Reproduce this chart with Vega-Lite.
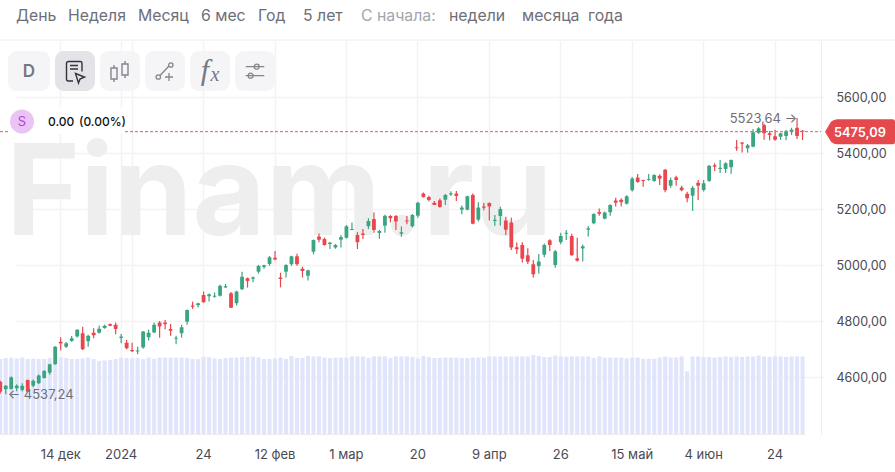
{
"$schema":"https://vega.github.io/schema/vega-lite/v6.json",
"width":821,"height":393,
"autosize":"none",
"padding":{"left":0,"top":41,"right":74,"bottom":38},
"background":"#ffffff",
"config":{"view":{"stroke":null},"font":"Inter"},
"data":{"values":[{}]},
"datasets":{"d":[
{"date":"2023-11-29","open":4582,"high":4585,"low":4540,"close":4546,"volume":3.75},
{"date":"2023-11-30","open":4555,"high":4570,"low":4537.24,"close":4567,"volume":3.8},
{"date":"2023-12-01","open":4556,"high":4600,"low":4554,"close":4598,"volume":3.82},
{"date":"2023-12-04","open":4558,"high":4573,"low":4548,"close":4567,"volume":3.78},
{"date":"2023-12-05","open":4552,"high":4576,"low":4547,"close":4567,"volume":3.82},
{"date":"2023-12-06","open":4588,"high":4590,"low":4545,"close":4546,"volume":3.75},
{"date":"2023-12-07","open":4567,"high":4590,"low":4562,"close":4585,"volume":3.77},
{"date":"2023-12-08","open":4576,"high":4608,"low":4574,"close":4604,"volume":3.75},
{"date":"2023-12-11","open":4595,"high":4624,"low":4593,"close":4620,"volume":3.75},
{"date":"2023-12-12","open":4614,"high":4646,"low":4607,"close":4644,"volume":3.8},
{"date":"2023-12-13","open":4644,"high":4709,"low":4642,"close":4707,"volume":3.75},
{"date":"2023-12-14","open":4725,"high":4741,"low":4693,"close":4718,"volume":3.83},
{"date":"2023-12-15","open":4707,"high":4724,"low":4702,"close":4719,"volume":3.8},
{"date":"2023-12-18","open":4727,"high":4745,"low":4725,"close":4737,"volume":3.75},
{"date":"2023-12-19","open":4743,"high":4769,"low":4740,"close":4767,"volume":3.75},
{"date":"2023-12-20","open":4755,"high":4778,"low":4695,"close":4698,"volume":3.78},
{"date":"2023-12-21","open":4726,"high":4750,"low":4707,"close":4746,"volume":3.82},
{"date":"2023-12-22","open":4757,"high":4773,"low":4737,"close":4748,"volume":3.75},
{"date":"2023-12-26","open":4757,"high":4783,"low":4754,"close":4771,"volume":3.65},
{"date":"2023-12-27","open":4774,"high":4785,"low":4771,"close":4782,"volume":3.68},
{"date":"2023-12-28","open":4788,"high":4790,"low":4780,"close":4782,"volume":3.7},
{"date":"2023-12-29","open":4785,"high":4793,"low":4751,"close":4770,"volume":3.75},
{"date":"2024-01-02","open":4738,"high":4752,"low":4719,"close":4743,"volume":3.82},
{"date":"2024-01-03","open":4721,"high":4731,"low":4698,"close":4701,"volume":3.8},
{"date":"2024-01-04","open":4695,"high":4721,"low":4688,"close":4691,"volume":3.78},
{"date":"2024-01-05","open":4690,"high":4707,"low":4680,"close":4693,"volume":3.8},
{"date":"2024-01-08","open":4704,"high":4763,"low":4700,"close":4761,"volume":3.75},
{"date":"2024-01-09","open":4741,"high":4767,"low":4729,"close":4757,"volume":3.82},
{"date":"2024-01-10","open":4758,"high":4793,"low":4755,"close":4785,"volume":3.75},
{"date":"2024-01-11","open":4793,"high":4799,"low":4739,"close":4779,"volume":3.82},
{"date":"2024-01-12","open":4793,"high":4802,"low":4769,"close":4787,"volume":3.82},
{"date":"2024-01-16","open":4770,"high":4788,"low":4746,"close":4764,"volume":3.82},
{"date":"2024-01-17","open":4735,"high":4746,"low":4716,"close":4739,"volume":3.82},
{"date":"2024-01-18","open":4755,"high":4785,"low":4739,"close":4776,"volume":3.82},
{"date":"2024-01-19","open":4796,"high":4840,"low":4785,"close":4838,"volume":3.8},
{"date":"2024-01-22","open":4854,"high":4868,"low":4842,"close":4850,"volume":3.75},
{"date":"2024-01-23","open":4855,"high":4864,"low":4847,"close":4862,"volume":3.75},
{"date":"2024-01-24","open":4892,"high":4904,"low":4864,"close":4866,"volume":3.85},
{"date":"2024-01-25","open":4887,"high":4897,"low":4868,"close":4894,"volume":3.83},
{"date":"2024-01-26","open":4885,"high":4901,"low":4882,"close":4889,"volume":3.78},
{"date":"2024-01-29","open":4889,"high":4928,"low":4886,"close":4925,"volume":3.75},
{"date":"2024-01-30","open":4918,"high":4931,"low":4917,"close":4923,"volume":3.8},
{"date":"2024-01-31","open":4898,"high":4902,"low":4845,"close":4846,"volume":3.82},
{"date":"2024-02-01","open":4862,"high":4907,"low":4854,"close":4904,"volume":3.82},
{"date":"2024-02-02","open":4912,"high":4975,"low":4909,"close":4957,"volume":3.85},
{"date":"2024-02-05","open":4951,"high":4954,"low":4918,"close":4942,"volume":3.85},
{"date":"2024-02-06","open":4950,"high":4957,"low":4937,"close":4955,"volume":3.87},
{"date":"2024-02-07","open":4975,"high":4999,"low":4968,"close":4995,"volume":3.83},
{"date":"2024-02-08","open":4992,"high":5000,"low":4985,"close":4998,"volume":3.75},
{"date":"2024-02-09","open":5002,"high":5031,"low":4996,"close":5026,"volume":3.75},
{"date":"2024-02-12","open":5025,"high":5049,"low":5016,"close":5018,"volume":3.77},
{"date":"2024-02-13","open":4954,"high":4971,"low":4919,"close":4949,"volume":3.82},
{"date":"2024-02-14","open":4975,"high":5001,"low":4954,"close":4999,"volume":3.75},
{"date":"2024-02-15","open":5001,"high":5032,"low":4996,"close":5030,"volume":3.9},
{"date":"2024-02-16","open":5030,"high":5039,"low":4996,"close":5001,"volume":3.8},
{"date":"2024-02-20","open":4985,"high":4993,"low":4954,"close":4977,"volume":3.8},
{"date":"2024-02-21","open":4960,"high":4982,"low":4943,"close":4980,"volume":3.9},
{"date":"2024-02-22","open":5046,"high":5090,"low":5037,"close":5088,"volume":3.88},
{"date":"2024-02-23","open":5101,"high":5111,"low":5080,"close":5089,"volume":3.88},
{"date":"2024-02-26","open":5092,"high":5097,"low":5068,"close":5070,"volume":3.82},
{"date":"2024-02-27","open":5074,"high":5080,"low":5056,"close":5079,"volume":3.8},
{"date":"2024-02-28","open":5061,"high":5074,"low":5057,"close":5070,"volume":3.82},
{"date":"2024-02-29","open":5089,"high":5106,"low":5061,"close":5099,"volume":3.82},
{"date":"2024-03-01","open":5096,"high":5141,"low":5093,"close":5137,"volume":3.82},
{"date":"2024-03-04","open":5124,"high":5151,"low":5123,"close":5127,"volume":3.88},
{"date":"2024-03-05","open":5106,"high":5116,"low":5056,"close":5080,"volume":3.88},
{"date":"2024-03-06","open":5111,"high":5127,"low":5092,"close":5106,"volume":3.88},
{"date":"2024-03-07","open":5137,"high":5166,"low":5127,"close":5156,"volume":3.8},
{"date":"2024-03-08","open":5163,"high":5186,"low":5114,"close":5124,"volume":3.88},
{"date":"2024-03-11","open":5113,"high":5124,"low":5092,"close":5120,"volume":3.88},
{"date":"2024-03-12","open":5139,"high":5178,"low":5114,"close":5175,"volume":3.88},
{"date":"2024-03-13","open":5174,"high":5177,"low":5151,"close":5166,"volume":3.8},
{"date":"2024-03-14","open":5174,"high":5177,"low":5124,"close":5154,"volume":3.88},
{"date":"2024-03-15","open":5110,"high":5136,"low":5100,"close":5116,"volume":3.88},
{"date":"2024-03-18","open":5158,"high":5174,"low":5144,"close":5154,"volume":3.88},
{"date":"2024-03-19","open":5137,"high":5181,"low":5133,"close":5177,"volume":3.85},
{"date":"2024-03-20","open":5175,"high":5225,"low":5168,"close":5221,"volume":3.78},
{"date":"2024-03-21","open":5254,"high":5258,"low":5240,"close":5242,"volume":3.9},
{"date":"2024-03-22","open":5242,"high":5246,"low":5226,"close":5231,"volume":3.85},
{"date":"2024-03-25","open":5221,"high":5227,"low":5213,"close":5213,"volume":3.8},
{"date":"2024-03-26","open":5230,"high":5236,"low":5203,"close":5206,"volume":3.8},
{"date":"2024-03-27","open":5232,"high":5252,"low":5213,"close":5249,"volume":3.82},
{"date":"2024-03-28","open":5251,"high":5262,"low":5245,"close":5255,"volume":3.82},
{"date":"2024-04-01","open":5254,"high":5263,"low":5227,"close":5245,"volume":3.82},
{"date":"2024-04-02","open":5196,"high":5211,"low":5180,"close":5204,"volume":3.8},
{"date":"2024-04-03","open":5196,"high":5246,"low":5194,"close":5244,"volume":3.8},
{"date":"2024-04-04","open":5249,"high":5254,"low":5144,"close":5146,"volume":3.82},
{"date":"2024-04-05","open":5160,"high":5223,"low":5154,"close":5204,"volume":3.82},
{"date":"2024-04-08","open":5208,"high":5220,"low":5194,"close":5203,"volume":3.82},
{"date":"2024-04-09","open":5220,"high":5222,"low":5158,"close":5208,"volume":3.88},
{"date":"2024-04-10","open":5156,"high":5177,"low":5139,"close":5160,"volume":3.88},
{"date":"2024-04-11","open":5174,"high":5207,"low":5139,"close":5199,"volume":3.88},
{"date":"2024-04-12","open":5158,"high":5171,"low":5106,"close":5125,"volume":3.88},
{"date":"2024-04-15","open":5151,"high":5168,"low":5052,"close":5061,"volume":3.88},
{"date":"2024-04-16","open":5062,"high":5079,"low":5038,"close":5055,"volume":3.88},
{"date":"2024-04-17","open":5070,"high":5080,"low":5008,"close":5021,"volume":3.88},
{"date":"2024-04-18","open":5034,"high":5059,"low":5002,"close":5010,"volume":3.88},
{"date":"2024-04-19","open":5001,"high":5017,"low":4954,"close":4966,"volume":3.95},
{"date":"2024-04-22","open":4994,"high":5038,"low":4968,"close":5011,"volume":3.9},
{"date":"2024-04-23","open":5035,"high":5076,"low":5026,"close":5070,"volume":3.85},
{"date":"2024-04-24","open":5087,"high":5091,"low":5049,"close":5070,"volume":3.85},
{"date":"2024-04-25","open":4999,"high":5052,"low":4989,"close":5048,"volume":3.92},
{"date":"2024-04-26","open":5080,"high":5114,"low":5073,"close":5102,"volume":3.88},
{"date":"2024-04-29","open":5110,"high":5124,"low":5088,"close":5114,"volume":3.87},
{"date":"2024-04-30","open":5102,"high":5110,"low":5032,"close":5034,"volume":3.88},
{"date":"2024-05-01","open":5023,"high":5096,"low":5011,"close":5014,"volume":3.88},
{"date":"2024-05-02","open":5058,"high":5072,"low":5011,"close":5066,"volume":3.88},
{"date":"2024-05-03","open":5125,"high":5138,"low":5101,"close":5130,"volume":3.88},
{"date":"2024-05-06","open":5148,"high":5184,"low":5144,"close":5181,"volume":3.8},
{"date":"2024-05-07","open":5188,"high":5201,"low":5175,"close":5182,"volume":3.88},
{"date":"2024-05-08","open":5164,"high":5190,"low":5162,"close":5186,"volume":3.82},
{"date":"2024-05-09","open":5187,"high":5216,"low":5175,"close":5213,"volume":3.82},
{"date":"2024-05-10","open":5229,"high":5239,"low":5208,"close":5221,"volume":3.82},
{"date":"2024-05-13","open":5232,"high":5237,"low":5208,"close":5223,"volume":3.82},
{"date":"2024-05-14","open":5218,"high":5248,"low":5215,"close":5244,"volume":3.78},
{"date":"2024-05-15","open":5266,"high":5313,"low":5261,"close":5308,"volume":3.82},
{"date":"2024-05-16","open":5311,"high":5324,"low":5293,"close":5295,"volume":3.82},
{"date":"2024-05-17","open":5302,"high":5303,"low":5278,"close":5299,"volume":3.76},
{"date":"2024-05-20","open":5302,"high":5324,"low":5300,"close":5306,"volume":3.76},
{"date":"2024-05-21","open":5299,"high":5323,"low":5296,"close":5320,"volume":3.76},
{"date":"2024-05-22","open":5318,"high":5323,"low":5285,"close":5307,"volume":3.82},
{"date":"2024-05-23","open":5339,"high":5342,"low":5259,"close":5266,"volume":3.87},
{"date":"2024-05-24","open":5282,"high":5311,"low":5275,"close":5302,"volume":3.82},
{"date":"2024-05-28","open":5312,"high":5318,"low":5282,"close":5302,"volume":3.82},
{"date":"2024-05-29","open":5276,"high":5282,"low":5262,"close":5266,"volume":3.88},
{"date":"2024-05-30","open":5253,"high":5260,"low":5223,"close":5237,"volume":3.13},
{"date":"2024-05-31","open":5246,"high":5281,"low":5192,"close":5275,"volume":3.88},
{"date":"2024-06-03","open":5293,"high":5302,"low":5231,"close":5282,"volume":3.87},
{"date":"2024-06-04","open":5267,"high":5302,"low":5261,"close":5291,"volume":3.85},
{"date":"2024-06-05","open":5299,"high":5356,"low":5296,"close":5353,"volume":3.85},
{"date":"2024-06-06","open":5355,"high":5362,"low":5335,"close":5350,"volume":3.82},
{"date":"2024-06-07","open":5342,"high":5374,"low":5327,"close":5346,"volume":3.85},
{"date":"2024-06-10","open":5342,"high":5366,"low":5327,"close":5362,"volume":3.88},
{"date":"2024-06-11","open":5348,"high":5376,"low":5325,"close":5374,"volume":3.85},
{"date":"2024-06-12","open":5419,"high":5445,"low":5407,"close":5416,"volume":3.88},
{"date":"2024-06-13","open":5436,"high":5437,"low":5401,"close":5432,"volume":3.85},
{"date":"2024-06-14","open":5416,"high":5431,"low":5400,"close":5427,"volume":3.88},
{"date":"2024-06-17","open":5421,"high":5485,"low":5419,"close":5473,"volume":3.88},
{"date":"2024-06-18","open":5471,"high":5491,"low":5467,"close":5487,"volume":3.92},
{"date":"2024-06-20","open":5499,"high":5503,"low":5446,"close":5469,"volume":3.88},
{"date":"2024-06-21","open":5469,"high":5477,"low":5444,"close":5463,"volume":3.85},
{"date":"2024-06-24","open":5459,"high":5482,"low":5443,"close":5446,"volume":3.88},
{"date":"2024-06-25","open":5457,"high":5471,"low":5446,"close":5469,"volume":3.88},
{"date":"2024-06-26","open":5460,"high":5482,"low":5444,"close":5477,"volume":3.85},
{"date":"2024-06-27","open":5475,"high":5489,"low":5463,"close":5482,"volume":3.88},
{"date":"2024-06-28","open":5489,"high":5523.64,"low":5449,"close":5460,"volume":3.88},
{"date":"2024-07-01","open":5478,"high":5481,"low":5445,"close":5475.09,"volume":3.88}
]},
"layer":[
{"mark":{"type":"text","text":"Finam.ru","font":"Inter","fontWeight":"bold","fontSize":126,"align":"left","baseline":"alphabetic","color":"#eeeeee"},
 "encoding":{"x":{"value":6},"y":{"value":194}}},
{"data":{"name":"d"},
 "mark":{"type":"bar","width":4.1,"color":"#dfe4fc","opacity":0.95},
 "encoding":{
  "x":{"field":"date","type":"ordinal","scale":{"type":"band","range":[-2.5,805.3],"paddingInner":0,"paddingOuter":0},
   "axis":{"title":null,"values":["2023-12-14","2024-01-02","2024-01-04","2024-01-24","2024-02-12","2024-03-01","2024-03-20","2024-04-09","2024-04-26","2024-05-15","2024-06-04","2024-06-24"],
    "labelExpr":"{'2023-12-14':'14 дек','2024-01-02':'2024','2024-01-04':'','2024-01-24':'24','2024-02-12':'12 фев','2024-03-01':'1 мар','2024-03-20':'20','2024-04-09':'9 апр','2024-04-26':'26','2024-05-15':'15 май','2024-06-04':'4 июн','2024-06-24':'24'}[datum.value]",
    "grid":true,"gridColor":"#f3f3f4","gridWidth":1.5,"ticks":false,"domain":true,"domainColor":"#ececee","labelPadding":14,"labelFont":"Inter","labelFontSize":13,"labelColor":"#4a4a52","labelAngle":0,"labelOverlap":false}},
  "y":{"field":"volume","type":"quantitative","scale":{"domain":[0,19.65]},"axis":null}}},
{"resolve":{"scale":{"y":"shared"}},
 "layer":[
 {"data":{"name":"d"},
  "mark":{"type":"rule","strokeWidth":1.2},
  "encoding":{
   "x":{"field":"date","type":"ordinal","scale":{"type":"band"}},
   "y":{"field":"low","type":"quantitative","scale":{"domain":[4395,5799]},
    "axis":{"title":null,"orient":"right","values":[4600,4800,5000,5200,5400,5600],"labelExpr":"replace(format(datum.value,'.2f'),'.',',')","grid":true,"gridColor":"#f3f3f4","gridWidth":1.5,"ticks":false,"domain":true,"domainColor":"#ececee","labelPadding":15,"labelFont":"Inter","labelFontSize":12.5,"labelColor":"#4a4a52","labelOffset":0.7}},
   "y2":{"field":"high"},
   "color":{"condition":{"test":"datum.close>=datum.open","value":"#3ba582"},"value":"#e8474e"}}},
 {"data":{"name":"d"},
  "mark":{"type":"bar","width":3.8,"cornerRadius":0.5},
  "encoding":{
   "x":{"field":"date","type":"ordinal","scale":{"type":"band"}},
   "y":{"field":"open","type":"quantitative","scale":{"domain":[4395,5799]}},
   "y2":{"field":"close"},
   "color":{"condition":{"test":"datum.close>=datum.open","value":"#3ba582"},"value":"#e8474e"}}},
 {"mark":{"type":"rule","stroke":"#ea5a60","strokeWidth":1,"strokeDash":[3,2]},
  "encoding":{"x":{"value":0},"x2":{"value":821},"y":{"datum":5475.09,"type":"quantitative","scale":{"domain":[4395,5799]}}}},
 {"data":{"values":[{"date":"2024-06-28","price":5523.64,"label":"5523,64 →"}]},
  "mark":{"type":"text","align":"right","baseline":"middle","font":"Inter","fontSize":13,"color":"#6f6f77","dx":0,"dy":1},
  "encoding":{"x":{"field":"date","type":"ordinal","scale":{"type":"band"}},"y":{"field":"price","type":"quantitative","scale":{"domain":[4395,5799]}},"text":{"field":"label"}}},
 {"data":{"values":[{"date":"2023-11-30","price":4537.24,"label":"← 4537,24"}]},
  "mark":{"type":"text","align":"left","baseline":"middle","font":"Inter","fontSize":13,"color":"#6f6f77","dx":2,"dy":1},
  "encoding":{"x":{"field":"date","type":"ordinal","scale":{"type":"band"}},"y":{"field":"price","type":"quantitative","scale":{"domain":[4395,5799]}},"text":{"field":"label"}}},
 {"mark":{"type":"point","shape":"M-3.5,0 L-2.9,-1 Q-2.6,-1.25 -2.3,-1.25 H3.3 Q3.5,-1.25 3.5,-1 V1 Q3.5,1.25 3.3,1.25 H-2.3 Q-2.6,1.25 -2.9,1 Z","size":400,"filled":true,"color":"#e5484d","opacity":1,"stroke":null},
  "encoding":{"x":{"value":860},"y":{"datum":5475.09,"type":"quantitative","scale":{"domain":[4395,5799]}}}},
 {"data":{"values":[{"price":5475.09,"label":"5475,09"}]},
  "mark":{"type":"text","align":"center","baseline":"middle","font":"Inter","fontSize":12.8,"fontWeight":600,"color":"#ffffff","dy":1},
  "encoding":{"x":{"value":860},"y":{"field":"price","type":"quantitative","scale":{"domain":[4395,5799]}},"text":{"field":"label"}}}
 ]},
{"mark":{"type":"rule","stroke":"#ececee","strokeWidth":1},"encoding":{"x":{"value":0},"x2":{"value":895},"y":{"value":-1}}},
{"mark":{"type":"text","text":"День","font":"Inter","fontSize":15.8,"align":"left","baseline":"alphabetic","color":"#6e6e78"},"encoding":{"x":{"value":16},"y":{"value":-20}}},
{"mark":{"type":"text","text":"Неделя","font":"Inter","fontSize":15.8,"align":"left","baseline":"alphabetic","color":"#6e6e78"},"encoding":{"x":{"value":68},"y":{"value":-20}}},
{"mark":{"type":"text","text":"Месяц","font":"Inter","fontSize":15.8,"align":"left","baseline":"alphabetic","color":"#6e6e78"},"encoding":{"x":{"value":138},"y":{"value":-20}}},
{"mark":{"type":"text","text":"6 мес","font":"Inter","fontSize":15.8,"align":"left","baseline":"alphabetic","color":"#6e6e78"},"encoding":{"x":{"value":201},"y":{"value":-20}}},
{"mark":{"type":"text","text":"Год","font":"Inter","fontSize":15.8,"align":"left","baseline":"alphabetic","color":"#6e6e78"},"encoding":{"x":{"value":258},"y":{"value":-20}}},
{"mark":{"type":"text","text":"5 лет","font":"Inter","fontSize":15.8,"align":"left","baseline":"alphabetic","color":"#6e6e78"},"encoding":{"x":{"value":303},"y":{"value":-20}}},
{"mark":{"type":"text","text":"С начала:","font":"Inter","fontSize":15.8,"align":"left","baseline":"alphabetic","color":"#a5a5ad"},"encoding":{"x":{"value":361},"y":{"value":-20}}},
{"mark":{"type":"text","text":"недели","font":"Inter","fontSize":15.8,"align":"left","baseline":"alphabetic","color":"#6e6e78"},"encoding":{"x":{"value":449},"y":{"value":-20}}},
{"mark":{"type":"text","text":"месяца","font":"Inter","fontSize":15.8,"align":"left","baseline":"alphabetic","color":"#6e6e78"},"encoding":{"x":{"value":522},"y":{"value":-20}}},
{"mark":{"type":"text","text":"года","font":"Inter","fontSize":15.8,"align":"left","baseline":"alphabetic","color":"#6e6e78"},"encoding":{"x":{"value":588},"y":{"value":-20}}},
{"mark":{"type":"rect","cornerRadius":9,"color":"#f5f5f7"},"encoding":{"x":{"value":8},"x2":{"value":50},"y":{"value":10},"y2":{"value":50}}},
{"mark":{"type":"rect","cornerRadius":9,"color":"#e3e3e8"},"encoding":{"x":{"value":55},"x2":{"value":95},"y":{"value":10},"y2":{"value":50}}},
{"mark":{"type":"rect","cornerRadius":9,"color":"#f5f5f7"},"encoding":{"x":{"value":100},"x2":{"value":140},"y":{"value":10},"y2":{"value":50}}},
{"mark":{"type":"rect","cornerRadius":9,"color":"#f5f5f7"},"encoding":{"x":{"value":145},"x2":{"value":185},"y":{"value":10},"y2":{"value":50}}},
{"mark":{"type":"rect","cornerRadius":9,"color":"#f5f5f7"},"encoding":{"x":{"value":190},"x2":{"value":230},"y":{"value":10},"y2":{"value":50}}},
{"mark":{"type":"rect","cornerRadius":9,"color":"#f5f5f7"},"encoding":{"x":{"value":235},"x2":{"value":275},"y":{"value":10},"y2":{"value":50}}},
{"mark":{"type":"text","text":"D","font":"Inter","fontWeight":600,"fontSize":17,"align":"center","baseline":"middle","color":"#77777f"},"encoding":{"x":{"value":29},"y":{"value":31}}},
{"mark":{"type":"point","shape":"M-0.2,1 H-0.65 Q-0.85,1 -0.85,0.8 V-0.75 Q-0.85,-0.95 -0.65,-0.95 H0.5 Q0.7,-0.95 0.7,-0.75 V0.05 M-0.5,-0.55 H0.3 M-0.5,-0.2 H0.3 M0.05,0.25 L0.95,0.6 L0.5,0.8 L0.35,1.2 Z","size":400,"filled":false,"stroke":"#33333a","strokeWidth":1.4,"opacity":1},"encoding":{"x":{"value":75},"y":{"value":30}}},
{"mark":{"type":"point","shape":"M-0.9,-0.3 H-0.3 V0.8 H-0.9 Z M-0.6,-0.3 V-0.6 M-0.6,0.8 V1.1 M0.2,-0.7 H0.8 V0.4 H0.2 Z M0.5,-0.7 V-1 M0.5,0.4 V0.7","size":400,"filled":false,"stroke":"#85858d","strokeWidth":1.4,"opacity":1},"encoding":{"x":{"value":120},"y":{"value":30}}},
{"mark":{"type":"point","shape":"M-0.45,0.6 a0.22,0.22 0 1 0 -0.44,0 a0.22,0.22 0 1 0 0.44,0 Z M0.8,-0.6 a0.22,0.22 0 1 0 -0.44,0 a0.22,0.22 0 1 0 0.44,0 Z M-0.5,0.45 L0.35,-0.45 M0.4,0.2 V1 M0,0.6 H0.8","size":400,"filled":false,"stroke":"#85858d","strokeWidth":1.3,"opacity":1},"encoding":{"x":{"value":165},"y":{"value":30}}},
{"mark":{"type":"text","text":"f","font":"Liberation Serif","fontStyle":"italic","fontSize":30,"align":"center","baseline":"alphabetic","color":"#77777f"},"encoding":{"x":{"value":205},"y":{"value":39}}},
{"mark":{"type":"text","text":"x","font":"Liberation Serif","fontStyle":"italic","fontSize":20,"align":"center","baseline":"alphabetic","color":"#77777f"},"encoding":{"x":{"value":215},"y":{"value":40}}},
{"mark":{"type":"point","shape":"M-0.93,-0.43 H0.93 M-0.93,0.47 H0.93 M0.42,-0.43 a0.25,0.25 0 1 0 -0.5,0 a0.25,0.25 0 1 0 0.5,0 Z M-0.18,0.47 a0.25,0.25 0 1 0 -0.5,0 a0.25,0.25 0 1 0 0.5,0 Z","size":400,"filled":false,"stroke":"#85858d","strokeWidth":1.3,"opacity":1},"encoding":{"x":{"value":255},"y":{"value":30}}},
{"mark":{"type":"rect","cornerRadius":6,"color":"#ffffff"},"encoding":{"x":{"value":8},"x2":{"value":125},"y":{"value":66},"y2":{"value":93}}},
{"mark":{"type":"point","shape":"circle","size":576,"filled":true,"color":"#ebc4f6","opacity":1},"encoding":{"x":{"value":22},"y":{"value":80.5}}},
{"mark":{"type":"text","text":"S","font":"Inter","fontSize":13,"align":"center","baseline":"middle","color":"#b83fdc"},"encoding":{"x":{"value":22},"y":{"value":81}}},
{"mark":{"type":"text","text":"0.00","font":"Inter","fontSize":12,"fontWeight":500,"align":"left","baseline":"middle","color":"#111116"},"encoding":{"x":{"value":48},"y":{"value":81}}},
{"mark":{"type":"text","text":"(0.00%)","font":"Inter","fontSize":12,"fontWeight":500,"align":"left","baseline":"middle","color":"#111116"},"encoding":{"x":{"value":79},"y":{"value":81}}}
],
"resolve":{"scale":{"y":"independent"}}
}
